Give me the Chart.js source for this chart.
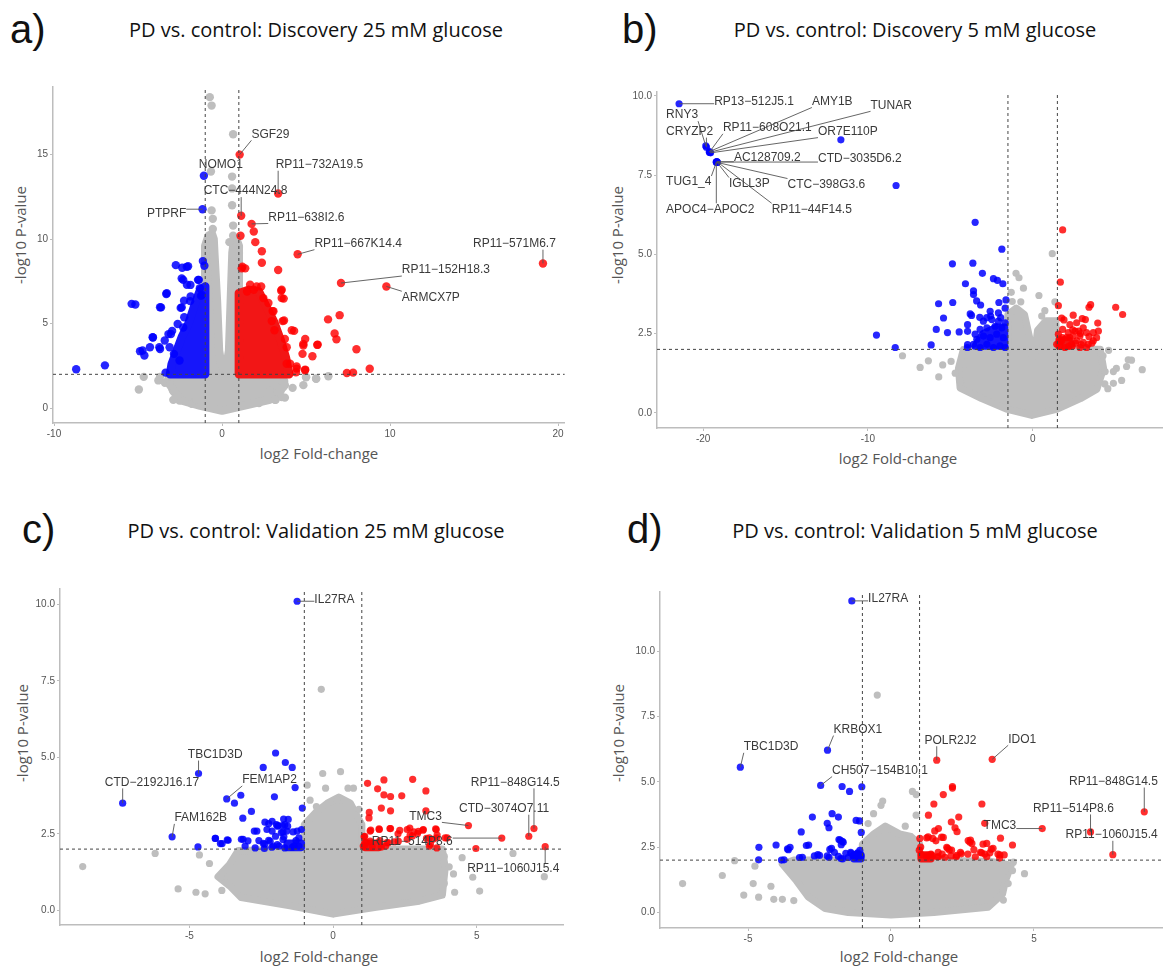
<!DOCTYPE html>
<html>
<head>
<meta charset="utf-8">
<script src="https://cdn.jsdelivr.net/npm/chart.js@4/dist/chart.umd.min.js"></script>
<style>
  body { margin: 0; background: #fff; }
  #page { position: relative; width: 1169px; height: 967px; overflow: hidden; background: #fff; }
  #page canvas { position: absolute; }
  .letter { position: absolute; font: 40px "Liberation Sans", Arial, sans-serif; color: #111; line-height: 40px; transform: translateY(-50%); }
  .title { position: absolute; font: 20px "Open Sans", sans-serif; color: #111; white-space: nowrap; transform: translate(-50%, -50%); line-height: 24px; }
  .axt { position: absolute; font: 15px "Open Sans", sans-serif; color: #555; white-space: nowrap; transform: translate(-50%, -50%); line-height: 20px; }
  .axt.rot { transform: translate(-50%, -50%) rotate(-90deg); }
</style>
</head>
<body>
<div id="page">
  <div class="letter" style="left:10px; top:29px">a)</div>
  <div class="title" style="left:316px; top:30px">PD vs. control: Discovery 25 mM glucose</div>
  <div class="letter" style="left:622px; top:29px">b)</div>
  <div class="title" style="left:915px; top:30px">PD vs. control: Discovery 5 mM glucose</div>
  <div class="letter" style="left:22px; top:529px">c)</div>
  <div class="title" style="left:316px; top:531px">PD vs. control: Validation 25 mM glucose</div>
  <div class="letter" style="left:627px; top:529px">d)</div>
  <div class="title" style="left:915px; top:531px">PD vs. control: Validation 5 mM glucose</div>

  <div class="axt" style="left:319px; top:453px">log2 Fold-change</div>
  <div class="axt rot" style="left:20px; top:235px">-log10 P-value</div>
  <div class="axt" style="left:898px; top:458px">log2 Fold-change</div>
  <div class="axt rot" style="left:617px; top:235px">-log10 P-value</div>
  <div class="axt" style="left:319px; top:956px">log2 Fold-change</div>
  <div class="axt rot" style="left:22px; top:733px">-log10 P-value</div>
  <div class="axt" style="left:899px; top:956px">log2 Fold-change</div>
  <div class="axt rot" style="left:618px; top:733px">-log10 P-value</div>
</div>
<script>
'use strict';

// ---------- a) Discovery 25 mM ----------
const aXTicks = [-10, 0, 10, 20];
const aYTicks = [0, 5, 10, 15];
const aThreshX = [-1, 1];
const aThreshY = 2;
const aGreyCore = [[0,-0.15],[-1.3,0.15],[-2.4,0.45],[-2.9,1.0],[-3.2,1.7],[-3.0,2.0],[-1.0,2.0],[-1.0,9.6],[-0.8,10.2],[-0.6,10.3],[-0.5,10.0],[-0.46,9.2],[-0.3,6.3],[-0.18,3.4],[-0.05,2.6],[0.1,2.4],[0.3,2.7],[0.42,3.4],[0.52,6.3],[0.62,9.2],[0.7,9.8],[0.85,10.0],[1.0,9.6],[1.0,2.0],[3.5,2.0],[3.7,1.6],[3.5,1.05],[2.85,0.5],[1.3,0.15],[0,-0.15]];
const aGrey = [[-0.73,18.4],[-0.62,17.9],[0.66,16.2],[-0.66,14.0],[0.6,13.7],[0.6,13.0],[0.6,12.0],[-0.62,11.7],[-0.55,11.2],[-0.55,10.6],[0.66,10.8],[0.66,10.2],[0.62,8.66],[0.44,9.82],
  [-4.66,1.85],[-4.95,1.1],[-2.92,1.07],[-3.69,1.85],[4.84,1.36],[5.6,1.75],[6.33,1.89],[5.0,1.85],[3.63,1.85],[3.19,0.5],[3.74,0.62],[-2.53,0.45],[3.74,1.36],[-3.4,1.5],[4.2,1.2],[2.2,0.3],[-1.8,0.25],
  [-3.79,1.64],[-3.1,1.37],[-2.9,0.49],[-1.51,0.49],[2.85,1.05],[3.65,1.25],[3.55,0.66],[3.15,0.49],[5.0,1.83],[5.6,1.73]];
const aBlueCore = [[-1.0,2.0],[-3.1,2.0],[-3.0,2.6],[-2.7,3.4],[-2.4,4.2],[-2.0,5.0],[-1.6,6.2],[-1.3,7.0],[-1.0,7.2],[-1.0,2.0]];
const aBlue = [[-8.68,2.3],[-6.97,2.53],[-5.38,6.17],[-5.16,6.13],[-4.88,3.37],[-4.62,3.11],[-4.29,3.6],[-4.11,4.18],[-3.69,5.97],[-3.69,3.5],[-3.32,6.75],[-3.41,4.0],[-3.19,4.38],[-3.36,2.1],
  [-2.75,8.46],[-2.37,8.31],[-2.02,8.39],[-2.31,7.59],[-2.09,7.3],[-1.43,7.59],[-1.14,8.7],[-1.05,8.42],[-2.46,5.93],[-2.26,6.36],[-1.87,6.61],[-1.32,7.1],[-1.21,6.7],[-2.31,4.77],[-2.97,4.57],[-3.12,3.6],[-2.86,3.21],[-2.53,2.82],
  [-2.1,8.36],[-2.4,7.67],[-1.88,7.29],[-1.38,7.59],[-3.29,6.8],[-3.63,5.96],[-2.4,5.96],[-1.9,6.33],[-4.13,4.19],[-3.04,4.39],[-4.73,3.41],[-3.73,3.6],[-2.64,4.98],[-2.25,5.38],[-1.25,6.64]];
const aRedCore = [[1.0,2.0],[4.0,2.0],[3.8,3.0],[3.5,4.0],[3.1,5.1],[2.6,6.1],[2.2,6.9],[1.6,7.0],[1.0,6.8],[1.0,2.0]];
const aRed = [[1.1,10.2],[1.89,10.45],[1.98,9.82],[2.37,9.28],[1.21,8.37],[1.38,8.27],[2.37,8.6],[3.34,8.17],[1.67,7.3],[2.33,7.2],[3.52,6.95],[3.67,6.48],[3.01,5.74],[3.69,5.19],
  [4.15,4.61],[4.29,4.57],[3.12,4.61],[3.74,4.09],[4.95,4.09],[4.84,3.7],[5.67,3.74],[6.31,5.25],[7.0,5.5],[6.7,4.42],[6.81,4.07],[8.0,3.48],[4.79,3.21],[5.38,3.07],[3.85,2.63],[4.44,2.47],[4.95,2.28],[8.79,2.33],[7.43,2.08],[7.8,2.1],[4.4,2.12],
  [1.17,8.27],[1.49,6.9],[1.89,7.0],[2.06,7.2],[2.46,6.51],[2.76,6.22],[3.06,5.73],[3.61,5.15],[3.55,6.51],[3.55,7.0],[2.96,5.15],[3.85,3.6],[4.05,2.63],[4.44,2.34],[4.94,2.24],[4.84,3.8],[5.69,3.76]];
const aGenes = [['SGF29',1.05,15.0],['NOMO1',-1.08,13.75],['RP11-732A19.5',3.34,12.7],['CTC-444N24.8',1.14,11.38],['PTPRF',-1.16,11.77],['RP11-638I2.6',1.76,10.9],['RP11-667K14.4',4.5,9.1],['RP11-571M6.7',19.1,8.56],['RP11-152H18.3',7.08,7.4],['ARMCX7P',9.78,7.2]];
const aLabelAt = {'SGF29':[1.75,16.2,'left'],'NOMO1':[-0.07,14.4,'center'],'RP11-732A19.5':[3.19,14.4,'left'],'CTC-444N24.8':[1.4,12.84,'center'],'PTPRF':[-2.13,11.48,'right'],'RP11-638I2.6':[2.75,11.28,'left'],'RP11-667K14.4':[5.5,9.73,'left'],'RP11-571M6.7':[17.4,9.73,'center'],'RP11-152H18.3':[10.7,8.17,'left'],'ARMCX7P':[10.7,6.56,'left']};

// ---------- b) Discovery 5 mM ----------
const bXTicks = [-20, -10, 0];
const bYTicks = [0, 2.5, 5, 7.5, 10];
const bThreshX = [-1.5, 1.5];
const bThreshY = 2;
const bGreyCore = [[-0.05,-0.08],[-1.6,0.12],[-3.1,0.45],[-4.4,0.78],[-4.5,1.4],[-4.2,2.0],[-1.5,2.0],[-1.5,3.1],[-1.0,3.3],[-0.5,3.1],[-0.2,2.4],[-0.05,1.8],[0.1,1.8],[0.3,2.6],[0.8,2.9],[1.4,2.9],[1.5,2.0],[4.1,2.0],[4.3,1.4],[3.9,0.75],[2.9,0.45],[1.5,0.12],[-0.05,-0.08]];
const bGrey = [[-1.01,4.4],[-0.83,4.26],[-0.56,3.93],[0.38,3.7],[1.19,5.02],[0.74,3.22],[-1.24,3.51],[-0.72,3.5],[0.55,3.05],[-1.3,3.8],[1.35,3.5],
  [-7.9,1.8],[-6.83,1.43],[-6.33,1.64],[-5.46,1.51],[-4.95,1.62],[-5.7,1.13],[-4.38,0.94],[-4.06,1.55],[-4.7,1.25],
  [5.8,1.67],[6.65,1.36],[5.7,1.46],[5.08,1.4],[4.9,1.3],[5.4,1.02],[4.9,0.93],[4.56,0.76],[4.4,1.3],[4.38,0.91],[4.27,1.8],[4.61,1.97],[6.0,1.66]];
const bBlueCore = [[-1.7,2.1],[-3.5,2.1],[-3.0,2.5],[-2.2,2.7],[-1.7,2.7],[-1.7,2.1]];
const bBlue = [[-11.64,8.61],[-8.29,7.17],[-3.49,6.01],[-1.87,5.16],[-4.87,4.7],[-3.63,4.72],[-3.05,4.4],[-2.38,4.23],[-2.14,4.18],[-1.81,4.07],[-4.08,4.07],[-3.59,3.85],[-3.59,3.73],[-5.71,3.44],[-4.85,3.48],[-3.4,3.53],[-3.16,3.4],[-2.05,3.48],[-1.62,3.56],
  [-5.41,2.99],[-5.85,2.63],[-5.17,2.53],[-4.46,2.55],[-6.16,2.14],[-8.34,2.06],[-9.48,2.45],[-3.95,2.78],[-3.95,2.57],[-3.95,2.15],[-3.79,3.12],[-2.79,3.0],[-2.55,3.05],[-1.94,3.0],[-3.21,3.01],[-3.71,3.07],
  [-3.96,2.06],[-3.59,2.16],[-3.19,2.06],[-2.78,2.16],[-2.38,2.06],[-1.98,2.11],[-1.67,2.06],[-3.39,2.32],[-2.99,2.42],[-2.58,2.37],[-2.18,2.48],[-1.78,2.37],[-3.19,2.63],[-2.78,2.68],[-2.28,2.73],[-1.87,2.68],
  [-3.49,2.48],[-2.48,2.94],[-2.08,2.89],[-1.67,2.84],[-2.99,2.89],[-2.58,3.2],[-2.08,3.15],[-1.67,3.3]];
const bRedCore = [[1.6,2.1],[2.4,2.1],[2.2,2.3],[1.6,2.3],[1.6,2.1]];
const bRed = [[1.82,5.77],[1.68,4.12],[1.56,3.38],[3.52,3.41],[3.42,3.33],[5.04,3.33],[5.46,3.1],[1.76,2.99],[1.9,2.93],[2.46,3.08],[3.01,2.97],[3.2,2.94],[3.95,2.83],[3.99,2.58],[2.43,2.62],[2.57,2.58],[2.8,2.58],[2.9,2.5],[2.25,2.37],[3.42,2.4],[3.6,2.2],[2.6,2.2],[2.95,2.15],[2.2,2.1],[1.8,2.37],[1.65,2.25],[1.65,2.1],
  [1.56,2.48],[1.76,2.27],[2.06,2.37],[2.36,2.16],[2.67,2.27],[3.07,2.22],[3.37,2.16],[3.68,2.27],[3.88,2.37],[2.87,2.42],[2.46,2.42],[3.27,2.53],[3.68,2.53],[2.26,2.78],[2.67,2.84],[3.07,2.68],[1.46,2.16],[1.96,2.06],[2.87,2.06],[3.27,2.06],[2.16,2.53],[1.82,2.63]];
const bGenes = [['RP13-512J5.1',-21.46,9.75],['RNY3',-19.84,8.42],['CRYZP2',-19.8,8.38],['RP11-608O21.1',-19.62,8.22],['AMY1B',-19.62,8.24],['TUNAR',-19.58,8.22],['OR7E110P',-19.55,8.2],['AC128709.2',-19.17,7.92],['CTD-3035D6.2',-19.17,7.91],['TUG1_4',-19.2,7.9],['IGLL3P',-19.15,7.9],['CTC-398G3.6',-19.17,7.9],['APOC4-APOC2',-19.2,7.92],['RP11-44F14.5',-19.15,7.92]];
const bLabelAt = {'RP13-512J5.1':[-19.33,9.82,'left'],'AMY1B':[-13.4,9.82,'left'],'TUNAR':[-9.84,9.7,'left'],'RNY3':[-22.25,9.39,'left'],'CRYZP2':[-22.25,8.87,'left'],'RP11-608O21.1':[-18.8,8.99,'left'],'OR7E110P':[-13.03,8.87,'left'],'AC128709.2':[-18.13,8.06,'left'],'CTD-3035D6.2':[-13.03,8.01,'left'],'TUG1_4':[-22.25,7.28,'left'],'IGLL3P':[-18.43,7.23,'left'],'CTC-398G3.6':[-14.88,7.2,'left'],'APOC4-APOC2':[-22.25,6.42,'left'],'RP11-44F14.5':[-15.84,6.42,'left']};

// ---------- c) Validation 25 mM ----------
const cXTicks = [-5, 0, 5];
const cYTicks = [0, 2.5, 5, 7.5, 10];
const cThreshX = [-1, 1];
const cThreshY = 2;
const cGreyCore = [[0,-0.12],[-1.5,0.15],[-3.2,0.42],[-3.6,0.8],[-4.0,1.1],[-3.6,1.5],[-3.3,1.95],[-1.0,2.0],[-1.0,2.8],[-0.6,3.2],[-0.2,3.5],[0.2,3.7],[0.6,3.5],[1.0,2.8],[1.0,2.0],[3.8,2.0],[3.9,1.4],[3.8,0.5],[3.0,0.3],[1.5,0.1],[0,-0.12]];
const cGrey = [[-0.41,7.22],[-8.71,1.43],[-6.19,1.86],[-0.36,4.47],[0.26,4.53],[-0.26,3.99],[0.52,3.99],[0.71,3.99],[-0.9,4.09],[-0.58,3.39],[0.15,3.6],[-0.8,3.6],[0.9,3.3],
  [-5.39,0.7],[-4.77,0.59],[-4.45,0.54],[-3.87,0.65],[-4.3,1.53],[-3.9,1.08],[-4.65,1.81],[6.26,1.86],[7.35,1.1],[5.1,0.63],[4.49,1.72],[4.04,1.42],[4.19,1.19],[3.87,0.88],[4.23,0.59],[3.87,1.76],[4.86,1.08]];
const cBlueCore = [[-1.1,2.05],[-1.6,2.05],[-1.6,2.2],[-1.1,2.2],[-1.1,2.05]];
const cBlue = [[-2.0,5.14],[-2.43,4.67],[-1.66,4.83],[-1.42,4.67],[-1.32,4.01],[-2.04,3.71],[-3.21,3.76],[-3.43,3.5],[-3.14,3.01],[-2.84,3.23],[-1.07,3.34],[-2.37,2.88],[-2.12,2.91],[-1.91,2.77],[-1.72,2.98],[-1.68,2.8],[-2.74,2.59],[-2.3,2.64],[-2.0,2.42],[-1.74,2.56],[-1.39,2.56],[-1.1,2.64],
  [-4.1,2.35],[-3.68,2.3],[-3.92,2.18],[-4.7,2.07],[-3.19,2.32],[-3.06,2.1],[-2.58,2.28],[-2.43,2.19],[-2.19,2.26],[-1.94,2.15],[-1.74,2.31],[-1.29,2.28],[-2.71,2.04],[-2.39,2.02],[-2.13,2.06],[-1.68,2.04],[-1.42,2.06],
  [-4.09,2.35],[-3.86,2.18],[-3.65,2.29],[-3.13,2.32],[-2.96,2.27],[-2.65,2.59],[-2.38,2.16],[-2.24,2.29],[-2.12,2.59],[-1.97,2.8],[-1.8,2.54],[-1.71,2.4],[-1.61,2.59],[-1.58,2.75],[-1.56,2.97],[-1.25,2.59],[-1.19,2.37],[-1.19,2.1],[-1.36,2.1],[-1.88,2.1],[-2.08,2.1],[-2.24,2.83],[-1.93,2.75],[-1.76,2.77]];
const cRedCore = [[1.1,2.05],[1.6,2.05],[1.6,2.2],[1.1,2.2],[1.1,2.05]];
const cRed = [[1.2,4.15],[1.77,4.26],[2.77,4.28],[1.55,3.97],[1.77,3.77],[2.0,3.72],[2.39,3.74],[3.23,3.9],[1.68,3.34],[2.0,3.25],[1.26,3.2],[1.25,3.02],[3.23,3.25],[1.61,2.64],[2.0,2.67],[2.32,2.61],[2.58,2.64],[1.29,2.59],[3.14,2.64],[3.59,2.64],
  [2.68,2.46],[2.94,2.51],[3.35,2.37],[3.61,2.37],[3.97,2.37],[4.97,2.02],[2.26,2.5],[1.87,2.21],[2.13,2.24],[1.1,2.42],[1.1,2.1],[1.36,2.07],[1.68,2.07],[3.35,2.1],[3.61,2.04],
  [1.31,2.62],[1.6,2.66],[1.98,2.67],[2.67,2.69],[2.81,2.56],[2.97,2.58],[3.13,2.62],[3.57,2.66],[3.9,2.37],[3.62,2.46],[1.08,2.4],[1.15,2.21],[1.29,2.26],[1.63,2.28],[1.83,2.1],[1.92,2.21],[2.27,2.26],[2.58,2.32],[2.76,2.43],[3.25,2.35],[3.39,2.16],[3.48,2.32],[1.05,2.1]];
const cGenes = [['IL27RA',-1.25,10.1],['TBC1D3D',-4.68,4.47],['CTD-2192J16.17',-7.32,3.5],['FEM1AP2',-3.7,3.64],['FAM162B',-5.6,2.4],['RP11-848G14.5',6.99,2.67],['CTD-3074O7.11',6.81,2.42],['TMC3',4.71,2.77],['RP11-514P8.6',5.87,2.36],['RP11-1060J15.4',7.38,2.08]];
const cLabelAt = {'IL27RA':[-0.65,10.16,'left'],'TBC1D3D':[-4.1,5.09,'center'],'CTD-2192J16.17':[-6.3,4.18,'center'],'FEM1AP2':[-3.16,4.26,'left'],'FAM162B':[-5.52,3.02,'left'],'RP11-848G14.5':[6.34,4.18,'center'],'CTD-3074O7.11':[5.95,3.32,'center'],'TMC3':[2.65,3.07,'left'],'RP11-514P8.6':[1.35,2.23,'left'],'RP11-1060J15.4':[6.27,1.35,'center']};

// ---------- d) Validation 5 mM ----------
const dXTicks = [-5, 0, 5];
const dYTicks = [0, 2.5, 5, 7.5, 10];
const dThreshX = [-1, 1];
const dThreshY = 2;
const dGreyCore = [[0,-0.1],[-1.5,0.0],[-2.3,0.15],[-2.9,0.6],[-3.3,1.2],[-3.8,1.85],[-3.4,2.0],[-1.0,2.0],[-1.0,2.6],[-0.6,3.0],[-0.2,3.3],[0.3,3.0],[0.7,2.9],[1.0,2.6],[1.0,2.0],[3.5,1.95],[4.2,1.8],[4.0,1.2],[3.9,0.7],[3.4,0.2],[1.5,0.0],[0,-0.1]];
const dGrey = [[-0.48,8.32],[0.75,4.63],[0.88,4.51],[-0.29,4.26],[-0.35,4.1],[-0.61,3.78],[0.88,3.72],[-0.8,3.4],[0.5,3.3],
  [-7.29,1.1],[-5.9,1.41],[-5.47,1.98],[-4.82,1.1],[-4.76,1.77],[-5.15,0.66],[-4.63,0.58],[-4.1,0.5],[-3.8,0.5],[-3.4,0.45],[-4.2,1.0],[4.67,1.48],[4.25,1.6],[4.0,1.3],[4.1,1.1],[3.93,0.47],[4.28,1.92]];
const dBlueCore = [[-1.05,2.05],[-1.3,2.05],[-1.3,2.2],[-1.05,2.2],[-1.05,2.05]];
const dBlue = [[-1.71,4.82],[-1.45,4.63],[-1.02,4.81],[-2.06,3.78],[-1.84,3.65],[-2.75,3.65],[-2.23,3.41],[-2.17,3.24],[-1.22,3.52],[-1.1,3.5],[-3.14,3.08],[-1.04,3.06],[-1.78,2.77],[-1.67,2.68],[-1.74,2.59],[-4.62,2.49],[-4.02,2.58],[-3.53,2.49],
  [-3.59,2.4],[-2.88,2.58],[-3.1,2.11],[-3.74,2.01],[-4.63,2.01],[-2.56,2.21],[-2.5,2.18],[-2.08,2.45],[-1.98,2.3],[-2.17,2.11],[-1.84,2.14],[-1.58,2.26],[-1.41,2.3],[-1.32,2.17],[-1.19,2.24],[-1.09,2.37],[-1.13,2.14],[-1.69,2.05],
  [-1.82,2.79],[-1.7,2.72],[-3.62,2.43],[-2.96,2.56],[-3.2,2.1],[-3.83,2.0],[-2.68,2.16],[-2.23,2.16],[-2.14,2.41],[-1.75,2.06],[-1.4,2.26],[-1.17,2.28],[-1.05,2.16],[-1.25,2.1],[-1.5,2.1]];
const dRedCore = [[1.05,2.05],[1.4,2.05],[1.4,2.2],[1.05,2.2],[1.05,2.05]];
const dRed = [[2.15,4.82],[2.15,4.76],[1.83,4.51],[1.5,4.15],[3.18,4.15],[1.31,3.72],[2.11,3.46],[2.37,3.65],[2.24,3.24],[2.31,3.09],[1.66,3.21],[1.53,3.12],[1.83,2.87],[1.3,2.89],[1.57,2.74],[1.01,2.83],[2.78,2.77],[2.83,2.64],[3.35,2.64],[3.83,2.84],[4.25,2.58],
  [1.04,2.5],[0.99,2.38],[3.13,2.3],[3.51,2.42],[3.74,2.23],[3.96,2.2],[3.28,2.23],[3.35,2.13],[1.95,2.49],[2.04,2.39],[2.3,2.18],[2.43,2.3],[2.69,2.23],[2.95,2.13],[3.8,2.08],[1.27,2.18],[1.4,2.23],[1.66,2.13],[1.79,2.23],[3.28,3.41],
  [1.46,2.83],[1.77,2.88],[1.25,2.85],[1.98,2.45],[2.12,2.38],[2.7,2.75],[2.76,2.68],[3.22,2.61],[3.57,2.45],[3.17,2.28],[3.46,2.28],[3.81,2.2],[1.06,2.21],[1.25,2.11],[1.45,2.16],[1.62,2.13],[1.89,2.11],[2.1,2.16],[2.28,2.13],[2.46,2.24],[1.65,2.3],[2.9,2.4]];
const dGenes = [['IL27RA',-1.37,11.93],['TBC1D3D',-5.27,5.56],['KRBOX1',-2.22,6.21],['CH507-154B10.1',-2.46,4.86],['POLR2J2',1.6,5.83],['IDO1',3.54,5.86],['RP11-848G14.5',8.86,3.85],['RP11-514P8.6',6.98,3.08],['TMC3',5.29,3.21],['RP11-1060J15.4',7.76,2.21]];
const dLabelAt = {'IL27RA':[-0.8,12.02,'left'],'TBC1D3D':[-5.15,6.34,'left'],'KRBOX1':[-2.01,7.0,'left'],'CH507-154B10.1':[-2.06,5.43,'left'],'POLR2J2':[2.08,6.59,'center'],'IDO1':[4.1,6.63,'left'],'RP11-848G14.5':[7.78,5.01,'center'],'RP11-514P8.6':[6.38,3.98,'center'],'TMC3':[3.24,3.33,'left'],'RP11-1060J15.4':[7.72,2.97,'center']};

const GREY = 'rgb(190,190,190)';
const BLUE = 'rgba(0,0,255,0.85)';
const RED = 'rgba(255,0,0,0.82)';
const BLUE_CORE = 'rgb(22,22,250)';
const RED_CORE = 'rgb(242,22,22)';
const AXIS = '#bdbdbd';
const Y_AXIS_W = 40, X_AXIS_H = 24, PAD = 4;
const LABEL_FONT = '12px "Liberation Sans", Arial, sans-serif';

const pts = arr => arr.map(([x, y]) => ({ x, y }));
const minus = s => s.replace(/-/g, '\u2212');

// gene labels with ggrepel-like leader segments
function labelPlugin(genes, labelAt) {
    return {
        id: 'geneLabels',
        afterDatasetsDraw(chart) {
            const { ctx, scales: { x, y } } = chart;
            ctx.save();
            ctx.font = LABEL_FONT;
            ctx.textBaseline = 'middle';
            const boxes = genes.map(([name, gx, gy]) => {
                const at = labelAt[name];
                const text = minus(name);
                const w = ctx.measureText(text).width;
                const lx = x.getPixelForValue(at[0]);
                const ly = y.getPixelForValue(at[1]);
                const left = at[2] === 'left' ? lx : at[2] === 'right' ? lx - w : lx - w / 2;
                return { text, left, w, ly, px: x.getPixelForValue(gx), py: y.getPixelForValue(gy) };
            });
            ctx.strokeStyle = '#555';
            ctx.lineWidth = 0.9;
            boxes.forEach(b => {
                const ex = Math.min(Math.max(b.px, b.left), b.left + b.w);
                const ey = Math.min(Math.max(b.py, b.ly - 6), b.ly + 6);
                if (Math.hypot(ex - b.px, ey - b.py) > 6) {
                    ctx.beginPath();
                    ctx.moveTo(b.px, b.py);
                    ctx.lineTo(ex, ey);
                    ctx.stroke();
                }
            });
            ctx.fillStyle = '#3a3a3a';
            boxes.forEach(b => ctx.fillText(b.text, b.left, b.ly));
            ctx.restore();
        }
    };
}

function core(arr, color, r, order) {
    return {
        type: 'line', data: pts(arr), borderColor: color, backgroundColor: color,
        borderWidth: 2 * r, borderJoinStyle: 'round', borderCapStyle: 'round',
        fill: 'shape', pointRadius: 0, tension: 0, order
    };
}

function dots(arr, color, r, order) {
    return { type: 'scatter', data: pts(arr), pointBackgroundColor: color, backgroundColor: color, pointBorderWidth: 0, borderWidth: 0, pointRadius: r, order };
}

function dashed(data) {
    return { type: 'line', data, borderColor: '#444', borderWidth: 1, borderDash: [3, 3], pointRadius: 0, order: 0 };
}

function volcano(box, p) {
    const canvas = document.createElement('canvas');
    const w = box.r - box.l + Y_AXIS_W + PAD;
    const h = box.b - box.t + PAD + X_AXIS_H;
    canvas.width = w;
    canvas.height = h;
    canvas.style.left = (box.l - Y_AXIS_W) + 'px';
    canvas.style.top = (box.t - PAD) + 'px';
    document.getElementById('page').appendChild(canvas);

    const r = p.radius;
    const tickFont = { size: 10, family: '"Liberation Sans", Arial, sans-serif' };
    const axis = (ticks, range, fmt, fit) => ({
        type: 'linear', min: range[0], max: range[1],
        afterBuildTicks: s => { s.ticks = ticks.map(v => ({ value: v })); },
        afterFit: fit,
        ticks: { color: '#555', font: tickFont, padding: 2, autoSkip: false, maxRotation: 0, callback: fmt },
        grid: { drawOnChartArea: false, drawTicks: true, tickLength: 3, color: AXIS, lineWidth: 1 },
        border: { display: true, color: AXIS, width: 1.5 }
    });

    new Chart(canvas, {
        type: 'scatter',
        data: {
            datasets: [
                ...p.threshX.map(t => dashed([{ x: t, y: p.yRange[0] }, { x: t, y: p.yRange[1] }])),
                dashed([{ x: p.xRange[0], y: p.threshY }, { x: p.xRange[1], y: p.threshY }]),
                { type: 'scatter', data: pts(p.genes.map(g => [g[1], g[2]])), pointBackgroundColor: p.genes.map(g => g[1] < 0 ? BLUE : RED), pointBorderWidth: 0, borderWidth: 0, pointRadius: r, order: 1 },
                dots(p.blue, BLUE, r, 2),
                dots(p.red, RED, r, 2),
                core(p.blueCore, BLUE_CORE, r, 3),
                core(p.redCore, RED_CORE, r, 3),
                dots(p.grey, GREY, r, 4),
                core(p.greyCore, GREY, r, 5)
            ]
        },
        options: {
            responsive: false,
            animation: false,
            events: [],
            layout: { padding: { top: PAD, right: PAD, left: 0, bottom: 0 } },
            plugins: { legend: { display: false }, tooltip: { enabled: false } },
            scales: {
                x: axis(p.xTicks, p.xRange, v => String(v), s => { s.height = X_AXIS_H; }),
                y: axis(p.yTicks, p.yRange, v => p.yDec ? v.toFixed(1) : String(v), s => { s.width = Y_AXIS_W; })
            }
        },
        plugins: [labelPlugin(p.genes, p.labelAt)]
    });
}

volcano({ l: 53, t: 83, r: 565, b: 423 }, {
    radius: 4.2, xRange: [-10.06, 20.4], yRange: [-0.88, 19.0], xTicks: aXTicks, yTicks: aYTicks, yDec: false,
    threshX: aThreshX, threshY: aThreshY, greyCore: aGreyCore, grey: aGrey, blueCore: aBlueCore, blue: aBlue,
    redCore: aRedCore, red: aRed, genes: aGenes, labelAt: aLabelAt
});
volcano({ l: 657, t: 88, r: 1162, b: 428 }, {
    radius: 3.6, xRange: [-22.8, 7.85], yRange: [-0.48, 10.12], xTicks: bXTicks, yTicks: bYTicks, yDec: true,
    threshX: bThreshX, threshY: bThreshY, greyCore: bGreyCore, grey: bGrey, blueCore: bBlueCore, blue: bBlue,
    redCore: bRedCore, red: bRed, genes: bGenes, labelAt: bLabelAt
});
volcano({ l: 60, t: 585, r: 563, b: 925 }, {
    radius: 3.6, xRange: [-9.5, 8.0], yRange: [-0.48, 10.5], xTicks: cXTicks, yTicks: cYTicks, yDec: true,
    threshX: cThreshX, threshY: cThreshY, greyCore: cGreyCore, grey: cGrey, blueCore: cBlueCore, blue: cBlue,
    redCore: cRedCore, red: cRed, genes: cGenes, labelAt: cLabelAt
});
volcano({ l: 660, t: 588, r: 1162, b: 928 }, {
    radius: 3.6, xRange: [-8.08, 9.48], yRange: [-0.6, 12.27], xTicks: dXTicks, yTicks: dYTicks, yDec: true,
    threshX: dThreshX, threshY: dThreshY, greyCore: dGreyCore, grey: dGrey, blueCore: dBlueCore, blue: dBlue,
    redCore: dRedCore, red: dRed, genes: dGenes, labelAt: dLabelAt
});
</script>
</body>
</html>
